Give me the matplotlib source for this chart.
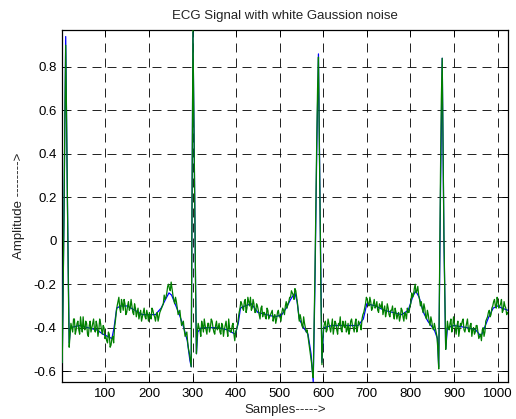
import numpy as np
import matplotlib
matplotlib.use("Agg")
import matplotlib.pyplot as plt

# ---------------- data ----------------
# clean ECG (blue) key points: sample index and amplitude
clean_samples = [1, 5, 9, 13, 17, 20, 40, 60, 80, 95, 105, 115, 120, 126, 135, 150, 168,
                 185, 200, 215, 228, 238, 246, 252, 260, 270, 280, 288, 294, 297, 299, 301,
                 303, 305, 307, 309, 312, 320, 340, 360, 380, 398, 405, 410, 420, 435, 450,
                 470, 490, 505, 515, 525, 535, 540, 545, 555, 565, 572, 577, 581, 585, 589,
                 593, 597, 601, 620, 650, 680, 692, 700, 720, 740, 760, 780, 795, 805, 812,
                 820, 830, 840, 855, 862, 865, 869, 873, 877, 881, 885, 900, 930, 950, 962,
                 970, 980, 990, 1000, 1010, 1024]
clean_values = [-0.56, 0.10, 0.94, 0.18, -0.47, -0.40, -0.39, -0.40, -0.41, -0.43, -0.44,
                -0.45, -0.40, -0.31, -0.30, -0.30, -0.32, -0.34, -0.34, -0.34, -0.31, -0.27,
                -0.24, -0.25, -0.29, -0.34, -0.40, -0.46, -0.55, -0.58, 0.20, 0.96, 0.60,
                0.20, -0.20, -0.52, -0.42, -0.40, -0.40, -0.40, -0.41, -0.43, -0.38, -0.31,
                -0.30, -0.29, -0.33, -0.34, -0.35, -0.34, -0.31, -0.27, -0.24, -0.28, -0.36,
                -0.40, -0.43, -0.52, -0.65, -0.20, 0.40, 0.86, 0.10, -0.56, -0.40, -0.39,
                -0.39, -0.39, -0.36, -0.29, -0.30, -0.32, -0.33, -0.34, -0.32, -0.26, -0.23,
                -0.26, -0.33, -0.37, -0.41, -0.45, -0.58, 0.20, 0.84, 0.00, -0.50, -0.40,
                -0.39, -0.40, -0.41, -0.44, -0.40, -0.35, -0.31, -0.30, -0.31, -0.32]

# noisy ECG (green): values at samples 1, 5, 9, ... (every 4th sample)
noisy_values_a = [
    -0.56, 0.10, 0.90, 0.15, -0.49,
    -0.38, -0.42, -0.36, -0.41, -0.37, -0.43, -0.39, -0.35, -0.41, -0.38,
    -0.44, -0.37, -0.40, -0.36, -0.42, -0.39, -0.41, -0.38, -0.43, -0.40,
    -0.44, -0.47, -0.43, -0.48, -0.44, -0.40,
    -0.33, -0.28, -0.31, -0.27, -0.32, -0.29, -0.33, -0.28, -0.31, -0.30, -0.34, -0.31,
    -0.33, -0.36, -0.32, -0.35, -0.31, -0.36, -0.34, -0.33, -0.36, -0.32, -0.35, -0.34, -0.37, -0.33,
    -0.31, -0.29, -0.27, -0.24, -0.20, -0.23, -0.22,
    -0.27, -0.26, -0.31, -0.33, -0.36, -0.38, -0.41, -0.43, -0.47, -0.52,
    -0.58, 0.97, 0.20, -0.52,
    -0.38, -0.41, -0.37, -0.42, -0.39, -0.43, -0.38, -0.40, -0.37, -0.42, -0.39,
    -0.41, -0.38, -0.43, -0.39, -0.41, -0.37, -0.44, -0.40, -0.42, -0.38, -0.46,
    -0.41, -0.36, -0.31,
    -0.29, -0.32, -0.27, -0.31, -0.28, -0.26, -0.31, -0.29, -0.33, -0.30, -0.34, -0.31, -0.35,
    -0.33, -0.36, -0.32, -0.35, -0.33, -0.37, -0.34, -0.36, -0.32, -0.35, -0.33, -0.32,
    -0.30, -0.31, -0.28, -0.26, -0.24, -0.27, -0.23,
    -0.29, -0.37, -0.36, -0.40, -0.38, -0.42, -0.44, -0.50, -0.56,
    -0.63, -0.15, 0.45, 0.845, 0.05, -0.57,
    -0.40, -0.37, -0.41, -0.38, -0.42, -0.36, -0.40, -0.38, -0.43, -0.39, -0.41, -0.37,
    -0.40, -0.42, -0.38, -0.41, -0.36, -0.40, -0.38, -0.42, -0.37, -0.39, -0.36,
    -0.33, -0.29,
    -0.27, -0.30, -0.28, -0.31, -0.27, -0.30, -0.32, -0.29, -0.31, -0.34, -0.30, -0.33, -0.31, -0.35, -0.32,
    -0.34, -0.31, -0.36, -0.33, -0.35, -0.32, -0.37, -0.34, -0.31, -0.33,
    -0.29, -0.26, -0.22, -0.24, -0.21, -0.27,
    -0.28, -0.33, -0.31, -0.36, -0.34, -0.39, -0.37, -0.41, -0.40, -0.44,
    -0.59, 0.30, 0.84, 0.02, -0.50,
    -0.37, -0.41, -0.36, -0.40, -0.38, -0.43, -0.37, -0.41, -0.39, -0.36, -0.42, -0.38,
    -0.41, -0.39, -0.44, -0.40, -0.42, -0.39, -0.45,
    -0.43, -0.41, -0.44, -0.37,
    -0.35, -0.32, -0.34, -0.30, -0.27, -0.31, -0.28, -0.30, -0.27, -0.32, -0.30, -0.34,
]

# noisy ECG (green): values at samples 3, 7, 11, ... (the samples in between)
noisy_values_b = [
    -0.25, 0.55, 0.55, -0.20, -0.43,
    -0.40, -0.36, -0.43, -0.38, -0.41, -0.35, -0.42, -0.40, -0.37, -0.43,
    -0.39, -0.42, -0.38, -0.41, -0.37, -0.44, -0.36, -0.41, -0.39, -0.45,
    -0.46, -0.42, -0.49, -0.45, -0.47, -0.37,
    -0.30, -0.26, -0.33, -0.29, -0.27, -0.34, -0.30, -0.32, -0.27, -0.33, -0.29, -0.35,
    -0.31, -0.34, -0.37, -0.33, -0.35, -0.32, -0.37, -0.35, -0.31, -0.34, -0.37, -0.33, -0.35, -0.32,
    -0.30, -0.25, -0.26, -0.21, -0.22, -0.19, -0.25,
    -0.29, -0.28, -0.34, -0.32, -0.39, -0.37, -0.44, -0.42, -0.50, -0.55,
    0.20, 0.60, -0.20, -0.42,
    -0.40, -0.44, -0.39, -0.36, -0.41, -0.38, -0.42, -0.36, -0.40, -0.43, -0.37,
    -0.40, -0.42, -0.38, -0.44, -0.39, -0.41, -0.36, -0.42, -0.39, -0.43, -0.42,
    -0.39, -0.33, -0.28,
    -0.31, -0.28, -0.33, -0.26, -0.30, -0.32, -0.27, -0.33, -0.29, -0.32, -0.36, -0.30, -0.33,
    -0.35, -0.31, -0.36, -0.34, -0.32, -0.35, -0.38, -0.33, -0.35, -0.37, -0.31, -0.34,
    -0.28, -0.29, -0.26, -0.23, -0.25, -0.22, -0.26,
    -0.33, -0.34, -0.39, -0.35, -0.40, -0.41, -0.47, -0.53, -0.60,
    -0.40, 0.15, 0.70, 0.45, -0.30, -0.45,
    -0.38, -0.42, -0.36, -0.40, -0.39, -0.43, -0.37, -0.41, -0.38, -0.35, -0.42, -0.39,
    -0.37, -0.41, -0.43, -0.37, -0.39, -0.42, -0.36, -0.40, -0.38, -0.41, -0.34,
    -0.31, -0.26,
    -0.29, -0.26, -0.32, -0.29, -0.31, -0.28, -0.33, -0.30, -0.28, -0.32, -0.35, -0.29, -0.34, -0.32, -0.30,
    -0.36, -0.33, -0.34, -0.37, -0.31, -0.35, -0.33, -0.36, -0.33, -0.30,
    -0.24, -0.25, -0.20, -0.23, -0.25, -0.30,
    -0.31, -0.29, -0.35, -0.32, -0.37, -0.35, -0.40, -0.38, -0.42, -0.50,
    -0.15, 0.65, 0.45, -0.25, -0.43,
    -0.40, -0.38, -0.42, -0.35, -0.40, -0.39, -0.44, -0.38, -0.37, -0.41, -0.40, -0.36,
    -0.42, -0.38, -0.41, -0.43, -0.39, -0.42, -0.44,
    -0.46, -0.40, -0.42, -0.36,
    -0.33, -0.35, -0.31, -0.28, -0.30, -0.26, -0.31, -0.29, -0.33, -0.28, -0.31, -0.33,
]

x_ticks = [100, 200, 300, 400, 500, 600, 700, 800, 900, 1000]
y_ticks = [-0.6, -0.4, -0.2, 0, 0.2, 0.4, 0.6, 0.8]
y_tick_labels = ["-0.6", "-0.4", "-0.2", "0", "0.2", "0.4", "0.6", "0.8"]

title = "ECG Signal with white Gaussion noise"
xlabel = "Samples----->"
ylabel = "Amplitude -------->"

# ---------------- plotting ----------------
plt.rcParams["font.family"] = ["Liberation Sans", "DejaVu Sans"]

fig = plt.figure(figsize=(5.16, 4.19), dpi=100)
ax = fig.add_axes([62 / 516, 1 - 382 / 419, 446 / 516, 352 / 419])

# interleave the two sample sets: 1, 3, 5, 7, ...
samples_a = 1 + 4 * np.arange(len(noisy_values_a))
samples_b = 3 + 4 * np.arange(len(noisy_values_b))
noisy_samples = np.empty(len(samples_a) + len(samples_b))
noisy_samples[0::2] = samples_a
noisy_samples[1::2] = samples_b
noisy_values = np.empty_like(noisy_samples)
noisy_values[0::2] = noisy_values_a
noisy_values[1::2] = noisy_values_b

ax.plot(clean_samples, clean_values, color=(0, 0, 1), lw=0.9, zorder=3)
ax.plot(noisy_samples, noisy_values, color=(0, 0.5, 0), lw=0.9, zorder=4)

ax.set_xlim(0.5, 1024)
ax.set_ylim(-0.65, 0.97)

ax.set_xticks(x_ticks)
ax.set_yticks(y_ticks)
ax.set_yticklabels(y_tick_labels)

ax.grid(True, color="black", linestyle=(0, (9, 6)), linewidth=0.72, alpha=0.85)
ax.set_axisbelow(True)

ax.tick_params(direction="in", length=4, width=0.7, top=True, right=True,
               labelsize=9.5, colors="black", pad=4)
for sp in ax.spines.values():
    sp.set_linewidth(0.9)
    sp.set_color("black")

ax.set_title(title, fontsize=9.5, pad=8, color="#222222")
ax.set_xlabel(xlabel, fontsize=9.5, labelpad=3, color="#222222")
ax.set_ylabel(ylabel, fontsize=9.5, labelpad=6, color="#222222")

fig.savefig("out.png", dpi=100)
